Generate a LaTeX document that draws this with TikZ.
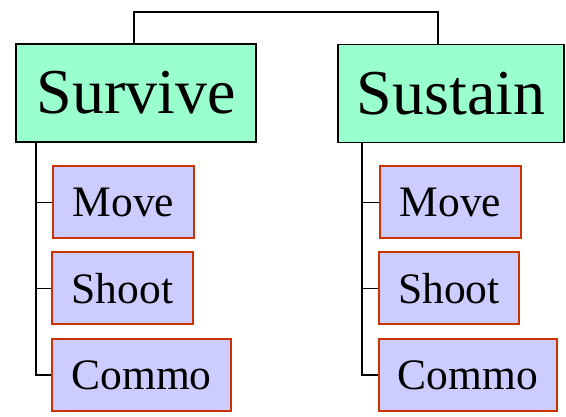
\documentclass[tikz,border=0pt]{standalone}
\usepackage{fontspec}
\setmainfont{Liberation Serif}
\definecolor{goalgreen}{HTML}{99FFCC}
\definecolor{tasklav}{HTML}{CCCCFF}
\definecolor{taskred}{HTML}{CC3300}

\begin{document}
\begin{tikzpicture}[x=1pt,y=-1pt,
  goal/.style={draw=black, line width=1.6pt, fill=goalgreen, minimum height=98pt, inner sep=0pt, font=\fontsize{64}{64}\selectfont},
  task/.style={draw=taskred, line width=2pt, fill=tasklav, minimum height=72pt, inner sep=0pt, font=\fontsize{43.5}{43.5}\selectfont},
  link/.style={draw=black, line width=1.8pt}]

\useasboundingbox (0,0) rectangle (566,417);

\node[goal, minimum width=240pt] (v1) at (136,93) {Survive};
\node[goal, minimum width=226pt] (v2) at (451,93.5) {Sustain};

\node[task, minimum width=141pt] (v3) at (123.5,202.5) {Move};
\node[task, minimum width=141pt] (v4) at (122.5,288.5) {Shoot};
\node[task, minimum width=179pt] (v5) at (141.5,375) {Commo};

\node[task, minimum width=141pt] (v6) at (450.5,202.5) {Move};
\node[task, minimum width=140pt] (v7) at (449,288.5) {Shoot};
\node[task, minimum width=178pt] (v8) at (468,375) {Commo};

\coordinate (v9) at ([xshift=-2pt]v1.north);
\coordinate (v10) at ([xshift=-13pt]v2.north);
\coordinate (v11) at ([xshift=21pt]v1.south west);
\coordinate (v12) at ([xshift=25pt]v2.south west);

\draw[link] (v9) -- ++(0,-31) -| (v10);

\draw[link] (v11) |- (v5.west);
\draw[link] (v3.west) -- (v3.west -| v11);
\draw[link] (v4.west) -- (v4.west -| v11);

\draw[link] (v12) |- (v8.west);
\draw[link] (v6.west) -- (v6.west -| v12);
\draw[link] (v7.west) -- (v7.west -| v12);
\end{tikzpicture}
\end{document}
